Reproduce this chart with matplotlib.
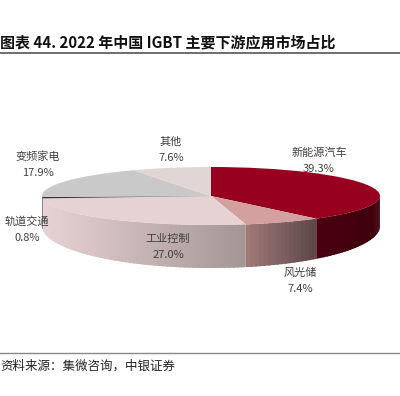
import numpy as np
import matplotlib.pyplot as plt
from matplotlib.transforms import Affine2D
from matplotlib.colors import to_rgb

plt.rcParams['font.family'] = ['Noto Sans CJK SC', 'DejaVu Sans']

# data
segments = ['新能源汽车', '风光储', '工业控制', '轨道交通', '变频家电', '其他']
shares = [39.3, 7.4, 27.0, 0.8, 17.9, 7.6]
pct_labels = ['39.3%', '7.4%', '27.0%', '0.8%', '17.9%', '7.6%']

# styles
top_colors = ['#98001f', '#d39f9f', '#e6d2d3', '#333333', '#c9c9c9', '#e1d5d5']
wall_left = ['#4a0010', '#a27a7a', '#e8d3d4', '#2e2e2e', '#b0b0b0', '#c8bcbc']
wall_right = ['#3e000c', '#5c4646', '#a49595', '#2e2e2e', '#b0b0b0', '#c8bcbc']
label_xy = [(319, 153), (300, 273), (168, 239), (27, 222), (38, 157), (171, 142)]

fig = plt.figure(figsize=(4, 3.96), dpi=100)
ax = fig.add_axes([0, 0, 1, 1])

# ellipse geometry in pixels
cx, cy, rx, ry = 211, 196, 169, 29
drop, ry_bot = 30, 42
T = Affine2D().scale(rx, -ry).translate(cx, cy) + ax.transData

# top face
wedges, _ = ax.pie(shares, colors=top_colors, startangle=90, counterclock=False,
                   radius=1, center=(0, 0), wedgeprops=dict(linewidth=0))
for w in wedges:
    w.set_transform(T)
    w.set_zorder(3)

# side walls (front half only), shaded strip by strip
cum = np.concatenate([[0], np.cumsum(shares)]) / sum(shares) * 360
for i in range(len(shares)):
    a0 = 90 - cum[i]
    a1 = 90 - cum[i + 1]
    lo, hi = max(a1, -180), min(a0, 0)
    if lo >= hi:
        continue
    c0, c1 = np.array(to_rgb(wall_left[i])), np.array(to_rgb(wall_right[i]))
    xlo, xhi = np.cos(np.radians(lo)), np.cos(np.radians(hi))
    n = max(2, int((hi - lo) / 1.5))
    edges = np.linspace(lo, hi, n + 1)
    step = edges[1] - edges[0]
    for j in range(n):
        # overlap the next strip a little so no seams show
        end = min(edges[j + 1] + 0.6 * step, hi)
        tt = np.radians(np.linspace(edges[j], end, 6))
        xs = np.cos(tt)
        ytop = np.sin(tt)
        ybot = -drop / ry + ry_bot / ry * np.sin(tt)
        xm = np.cos(np.radians((edges[j] + edges[j + 1]) / 2))
        f = 0 if xhi == xlo else (xm - xlo) / (xhi - xlo)
        c = c0 + (c1 - c0) * np.clip(f, 0, 1)
        ax.fill(np.concatenate([xs, xs[::-1]]), np.concatenate([ytop, ybot[::-1]]),
                color=c, lw=0, transform=T, zorder=2)

ax.set_aspect('auto')
ax.set_xlim(0, 400)
ax.set_ylim(396, 0)
ax.axis('off')

# labels
for name, pct, (x, y) in zip(segments, pct_labels, label_xy):
    ax.text(x, y, name, ha='center', va='center', fontsize=8, color='#404040', zorder=5)
    ax.text(x, y + 16, pct, ha='center', va='center', fontsize=8, color='#404040', zorder=5)

# title, rules, source
ax.text(0, 42, '图表 44. 2022 年中国 IGBT 主要下游应用市场占比', ha='left', va='center',
        fontsize=10.8, weight='bold', color='#111111')
ax.plot([0, 400], [53, 53], color='#555555', lw=1.2)
ax.plot([0, 400], [353, 353], color='#888888', lw=1)
ax.text(0, 366, '资料来源：集微咨询，中银证券', ha='left', va='center',
        fontsize=9, style='italic', color='#222222')

fig.savefig('out.png', dpi=100)
